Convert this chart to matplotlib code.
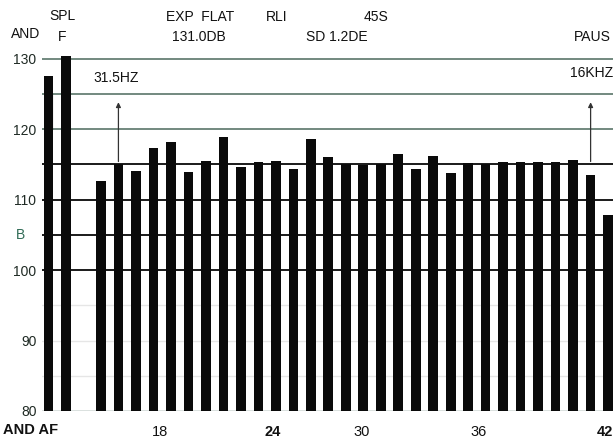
import numpy as np
import matplotlib
matplotlib.use("Agg")
import matplotlib.pyplot as plt

plt.rcParams['font.family'] = ['Liberation Sans', 'DejaVu Sans']

# bar data (dB SPL)
ref_labels = ['AND', 'F']
ref_pos = [11, 12]
ref_values = [127.5, 130.4]

bands = list(range(14, 44))
band_values = [112.6, 115.0, 114.1, 117.3, 118.1, 113.9, 115.4, 118.9, 114.6, 115.3,
               115.5, 114.4, 118.6, 116.0, 115.0, 114.9, 115.0, 116.5, 114.3, 116.2,
               113.8, 115.2, 115.0, 115.3, 115.3, 115.3, 115.3, 115.6, 113.5, 107.8]

tick_pos = [17.4, 23.8, 28.9, 35.6, 42.8]
tick_labels = ['18', '24', '30', '36', '42']
tick_weights = ['normal', 'bold', 'normal', 'normal', 'bold']

ytick_vals = [80, 90, 100, 110, 120, 130]
cursor_bands = [15, 42]
cursor_labels = ['31.5HZ', '16KHZ']

W, H = 613, 438
fig = plt.figure(figsize=(W / 100, H / 100), dpi=100)
ax = fig.add_axes([42 / W, 27 / H, 1 - 42 / W, (411 - 48) / H])
ax.set_xlim(10.63, 43.28)
ax.set_ylim(80, 131.5)

ink = '#111111'
green = '#4c6a5c'

# grid lines every 5 dB
for v in range(80, 131, 5):
    if v >= 120:
        ax.axhline(v, color=green, lw=1.1, zorder=1)
    elif v >= 100:
        ax.axhline(v, color='#1a1a1a', lw=1.4, zorder=1)
    elif v == 80:
        ax.axhline(v, color=green, lw=1.0, zorder=1)
    else:
        ax.axhline(v, color='#e6e6e6', lw=1.0, zorder=1)

ax.bar(ref_pos, np.array(ref_values) - 80, bottom=80, width=0.52, color='#0a0a0a', zorder=3)
ax.bar(bands, np.array(band_values) - 80, bottom=80, width=0.55, color='#0a0a0a', zorder=3)

# small bracket next to the reference bars
ax.plot([11.2, 11.2], [120, 125], color=ink, lw=0.8, zorder=2)

# cursor markers
for b in cursor_bands:
    ax.annotate('', xy=(b, 124.2), xytext=(b, 115),
                arrowprops=dict(arrowstyle='-|>', lw=0.9, color='#333333', mutation_scale=7),
                zorder=4)

for s in ax.spines.values():
    s.set_visible(False)

ax.set_yticks(ytick_vals)
ax.set_yticklabels([str(v) for v in ytick_vals])
ax.tick_params(axis='y', length=0, pad=4, labelsize=10, labelcolor='#1f2a24')
ax.set_xticks(tick_pos)
ax.set_xticklabels(tick_labels)
ax.tick_params(axis='x', length=0, pad=10, labelsize=10.5, labelcolor=ink)
for t, w in zip(ax.get_xticklabels(), tick_weights):
    t.set_fontweight(w)

ax.text(-0.038, 105, 'B', transform=ax.get_yaxis_transform(), ha='center', va='center',
        fontsize=10, color='#2f6b55')

def ftext(x, y, s, **kw):
    kw.setdefault('fontsize', 10)
    kw.setdefault('color', ink)
    fig.text(x / W, 1 - y / H, s, ha='center', va='center', **kw)

ftext(26, 34, 'AND')
ftext(62, 16, 'SPL')
ftext(62, 37, 'F')
ftext(200, 17, 'EXP  FLAT')
ftext(277, 17, 'RLI')
ftext(376, 17, '45S')
ftext(199, 37, '131.0DB')
ftext(337, 37, 'SD 1.2DE')
ftext(592, 37, 'PAUS')
ftext(116, 78, cursor_labels[0])
ftext(592, 73, cursor_labels[1])
ftext(31, 430, 'AND AF', fontweight='bold', fontsize=10.5)

fig.savefig('out.png', dpi=100)
